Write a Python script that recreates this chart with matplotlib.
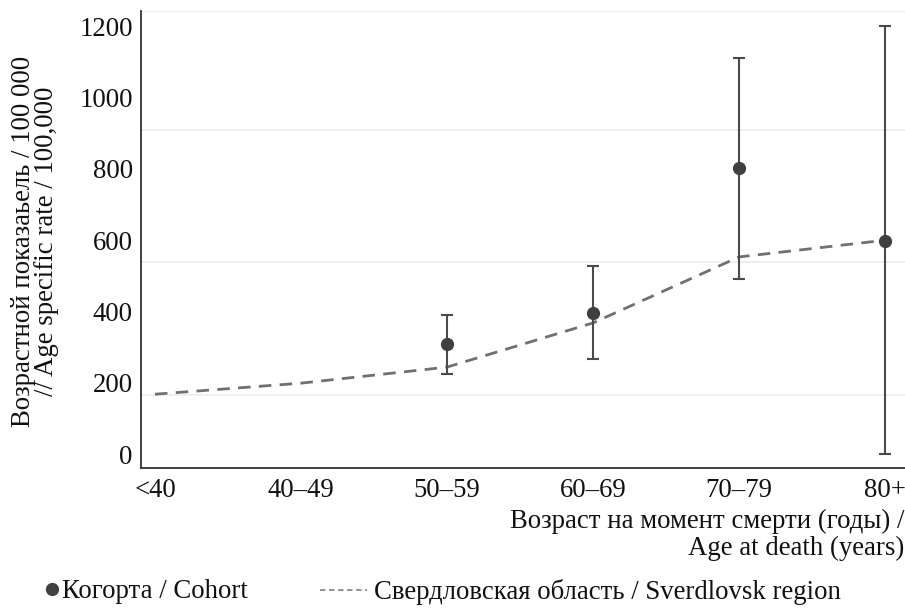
import matplotlib
matplotlib.use("Agg")
import matplotlib.pyplot as plt
from matplotlib.lines import Line2D

categories = ["<40", "40–49", "50–59", "60–69", "70–79", "80+"]
region_rate = [168, 199, 244, 368, 553, 600]
cohort_idx = [2, 3, 4, 5]
cohort_rate = [309, 396, 803, 598]
cohort_low = [225, 267, 491, 0]
cohort_high = [390, 528, 1111, 1200]
y_ticks = [0, 200, 400, 600, 800, 1000, 1200]
grid_vals = [166, 539, 909, 1243]

plt.rcParams['font.family'] = ['Liberation Serif', 'DejaVu Serif']
FS = 19.3

fig = plt.figure(figsize=(9.05, 6.09), dpi=100)
ax = fig.add_axes([141/905, 1-468/609, (905-141)/905, (468-11)/609])

for g in grid_vals:
    ax.axhline(g, color='#ececec', lw=1.2, zorder=0)

x_all = list(range(len(categories)))
ax.plot(x_all, region_rate, ls=(0, (4.5, 3)), color='#707070', lw=2, zorder=2)

err_lo = [c - l for c, l in zip(cohort_rate, cohort_low)]
err_hi = [h - c for c, h in zip(cohort_rate, cohort_high)]
ax.errorbar(cohort_idx, cohort_rate, yerr=[err_lo, err_hi], fmt='o', color='#3f3f3f',
            ecolor='#4a4a4a', elinewidth=1.5, capsize=4.3, capthick=1.5, markersize=8.5, zorder=3)

ax.set_xlim(-14/146, (905-155)/146)
ax.set_ylim(-39, 1243)
ax.set_xticks(x_all)
ax.set_xticklabels(categories)
ax.set_yticks(y_ticks)
ax.tick_params(axis='both', length=0, labelsize=FS, colors='#111111')
ax.tick_params(axis='y', pad=6)
ax.tick_params(axis='x', pad=7)
for s in ['top', 'right']:
    ax.spines[s].set_visible(False)
for s in ['left', 'bottom']:
    ax.spines[s].set_color('#333333')
    ax.spines[s].set_linewidth(1.3)

fig.text(35/905, 1-241/609, "Возрастной показаьель / 100 000\n// Age specific rate / 100,000",
         rotation=90, ha='center', va='center', multialignment='center', fontsize=FS,
         linespacing=0.9, color='#111111')
fig.text(904/905, 1-535/609, "Возраст на момент смерти (годы) /\nAge at death (years)",
         ha='right', va='center', multialignment='right', fontsize=FS, linespacing=1.1,
         color='#111111')

h1 = Line2D([], [], ls='none', marker='o', color='#3f3f3f', markersize=8.5)
leg1 = fig.legend([h1], ["Когорта / Cohort"], loc='center left',
                  bbox_to_anchor=(45/905, 1-592/609), frameon=False, fontsize=FS,
                  handlelength=0.5, handletextpad=0.15, borderpad=0, borderaxespad=0)
h2 = Line2D([], [], ls=(0, (3, 2)), color='#8a8a8a', lw=1.3)
leg2 = fig.legend([h2], ["Свердловская область / Sverdlovsk region"], loc='center left',
                  bbox_to_anchor=(320/905, 1-592/609), frameon=False, fontsize=FS,
                  handlelength=1.75, handletextpad=0.25, borderpad=0, borderaxespad=0)
for leg in (leg1, leg2):
    for t in leg.get_texts():
        t.set_color('#111111')

fig.savefig("out.png", dpi=100)
